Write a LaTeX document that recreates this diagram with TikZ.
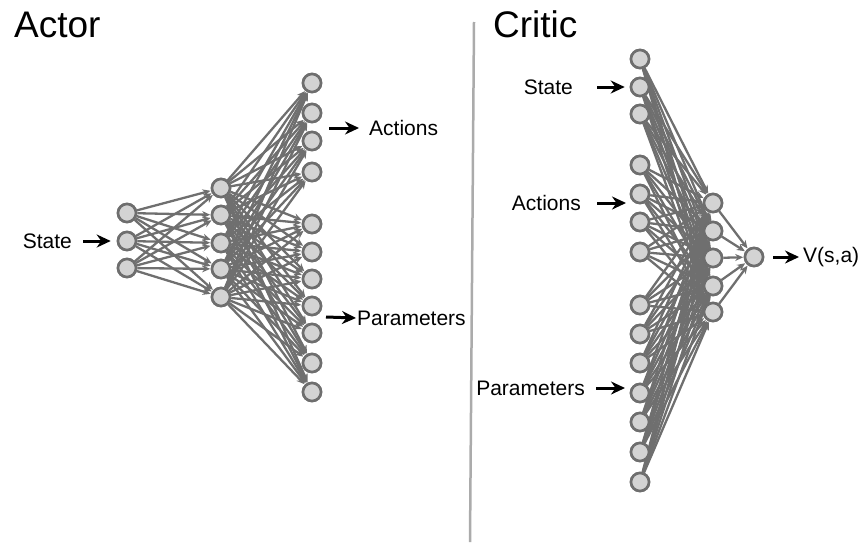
\documentclass[tikz,border=0pt]{standalone}
\usepackage{fontspec}
\setmainfont{Liberation Sans}
\usetikzlibrary{positioning,arrows.meta}

\definecolor{neuronfill}{HTML}{D3D3D3}
\definecolor{neurondraw}{HTML}{6E6E6E}
\definecolor{linkgray}{HTML}{6F6F6F}
\definecolor{rulegray}{HTML}{ABABAB}

\tikzset{
  neuron/.style={circle, draw=neurondraw, fill=neuronfill, line width=2.6pt, minimum size=18pt, inner sep=0pt},
  link/.style={draw=linkgray, line width=2.3pt, -{Stealth[length=8pt,width=7pt]}, shorten >=0.5pt},
  feed/.style={black, line width=3pt, -{Stealth[length=14pt,width=13pt]}},
  label/.style={inner sep=0pt, font=\fontsize{21}{25}\selectfont},
  title/.style={inner sep=0pt, anchor=base west, font=\fontsize{37}{44}\selectfont}
}

\begin{document}
\begin{tikzpicture}[x=1pt, y=-1pt]
    \useasboundingbox (0,0) rectangle (864,549);
    \node[title] (actor) at (14,37) {Actor};
    \node[title] (critic) at (493,37) {Critic};
    \coordinate (rule-top) at (474,22);
    \coordinate (rule-bot) at (470,542);
    \draw[rulegray, line width=2.5pt] (rule-top) -- (rule-bot);

    \foreach \y [count=\i] in {213,241,268} \node[neuron] (a-in-\i) at (127,\y) {};
    \foreach \y [count=\i] in {188,215,243,269,297} \node[neuron] (a-hid-\i) at (221,\y) {};
    \foreach \y [count=\i] in {83,113,141,172,224,252,279,306,333,363,392} \node[neuron] (a-out-\i) at (312,\y) {};
    \foreach \i in {1,...,3}
      \foreach \j in {1,...,5} \draw[link] (a-in-\i) -- (a-hid-\j);
    \foreach \i in {1,...,5}
      \foreach \j in {1,...,11} \draw[link] (a-hid-\i) -- (a-out-\j);
    \foreach \i in {1,...,3} \node[neuron] at (a-in-\i) {};
    \foreach \i in {1,...,5} \node[neuron] at (a-hid-\i) {};
    \foreach \i in {1,...,11} \node[neuron] at (a-out-\i) {};

    \node[label, anchor=east] (a-state) at (72,241) {State};
    \draw[feed] ([xshift=11pt]a-state.east) -- ([xshift=-6pt]a-in-2.west);
    \node[label, anchor=west] (a-act) at (369,128) {Actions};
    \coordinate (a-act-tail) at (329,128);
    \draw[feed] (a-act-tail) -- ([xshift=-10pt]a-act.west);
    \node[label, anchor=west] (a-par) at (357,318) {Parameters};
    \coordinate (a-par-tail) at (326,317);
    \draw[feed] (a-par-tail) -- ([xshift=-1pt]a-par.west);

    \foreach \y [count=\i] in {59,87,114,165,194,222,252,305,334,363,393,422,452,482} \node[neuron] (c-in-\i) at (640,\y) {};
    \foreach \y [count=\i] in {203,231,258,286,312} \node[neuron] (c-hid-\i) at (713,\y) {};
    \node[neuron] (c-out) at (754,257) {};
    \foreach \i in {1,...,14}
      \foreach \j in {1,...,5} \draw[link] (c-in-\i) -- (c-hid-\j);
    \foreach \j in {1,...,5} \draw[link] (c-hid-\j) -- (c-out);
    \foreach \i in {1,...,14} \node[neuron] at (c-in-\i) {};
    \foreach \i in {1,...,5} \node[neuron] at (c-hid-\i) {};
    \node[neuron] at (c-out) {};

    \node[label, anchor=east] (c-state) at (573,87) {State};
    \draw[feed] ([xshift=24pt]c-state.east) -- ([xshift=-5pt]c-in-2.west);
    \node[label, anchor=east] (c-act) at (581,203) {Actions};
    \coordinate (c-act-head) at (626,203);
    \draw[feed] ([xshift=16pt]c-act.east) -- (c-act-head);
    \node[label, anchor=east] (c-par) at (585,388) {Parameters};
    \coordinate (c-par-head) at (625,388);
    \draw[feed] ([xshift=11pt]c-par.east) -- (c-par-head);
    \node[label, anchor=west] (c-val) at (803,257) {V(s,a)};
    \draw[feed] ([xshift=9pt]c-out.east) -- ([xshift=-4pt]c-val.west);
\end{tikzpicture}
\end{document}
